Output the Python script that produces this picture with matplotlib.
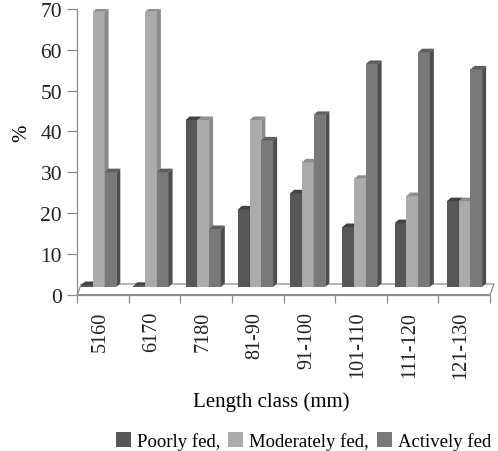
"""3D-look clustered column chart: feeding intensity per length class."""

import matplotlib
matplotlib.use("Agg")
import matplotlib.pyplot as plt
import matplotlib.transforms as mtransforms
from matplotlib.patches import Polygon

plt.rcParams["font.family"] = ["Liberation Serif", "DejaVu Serif"]

# data (percent per length class)
categories = ["5160", "6170", "7180", "81-90", "91-100", "101-110", "111-120", "121-130"]
poorly = [0.5, 0.3, 42.6, 19.8, 23.9, 15.3, 16.3, 21.9]
moderately = [70.2, 70.2, 42.6, 42.6, 31.8, 27.6, 23.2, 21.9]
actively = [29.3, 29.3, 14.8, 37.4, 43.9, 56.9, 59.9, 55.5]
series_names = ["Poorly fed,", "Moderately fed,", "Actively fed"]
ytick_values = [0, 10, 20, 30, 40, 50, 60, 70]

# looks
FRONT = ["#575757", "#ababab", "#797979"]
SIDE = ["#3c3c3c", "#8a8a8a", "#4e4e4e"]
TOP = ["#424242", "#8e8e8e", "#5e5e5e"]
AXIS = "#8c8c8c"
BAR_W = 0.227
DX, DY = 0.078, 0.9          # depth of a column (data units)
FLOOR_FRONT, FLOOR_BACK = -1.96, 0.77
FRONT_SCALE, FRONT_DROP = 1.041, 1.96   # axis sits on the front plane

fig = plt.figure(figsize=(4.98, 4.52), dpi=100)
ax = fig.add_axes([0.1552, 0.3458, 0.8287, 0.632])
ax.set_xlim(-0.5, 7.5)
ax.set_ylim(-1.96, 70.9)

# floor
ax.add_patch(Polygon([(-0.5, FLOOR_FRONT), (-0.5 + DX, FLOOR_BACK),
                      (7.5 + DX, FLOOR_BACK), (7.5, FLOOR_FRONT)],
                     closed=True, facecolor="white", edgecolor=AXIS,
                     linewidth=0.9, zorder=1, clip_on=False))

n = len(categories)
centers = [i + 0.013 * (i - 3.5) - 0.039 for i in range(n)]
handles = []
for k, values in enumerate([poorly, moderately, actively]):
    xs = [c + (k - 1) * BAR_W for c in centers]
    bars = ax.bar(xs, values, width=BAR_W, color=FRONT[k], linewidth=0,
                  zorder=3 + k, label=series_names[k])
    handles.append(bars)
    for p in bars.patches:
        x0, w, h = p.get_x(), p.get_width(), p.get_height()
        ax.add_patch(Polygon([(x0 + w, 0), (x0 + w + DX, DY), (x0 + w + DX, h + DY), (x0 + w, h)],
                             closed=True, facecolor=SIDE[k], linewidth=0, zorder=3 + k))
        ax.add_patch(Polygon([(x0, h), (x0 + DX, h + DY), (x0 + w + DX, h + DY), (x0 + w, h)],
                             closed=True, facecolor=TOP[k], linewidth=0, zorder=3 + k))

# axes styling
for side in ["top", "right"]:
    ax.spines[side].set_visible(False)
for side in ["left", "bottom"]:
    ax.spines[side].set_color(AXIS)
    ax.spines[side].set_linewidth(0.9)
    ax.spines[side].set_zorder(2)

ax.set_yticks([v * FRONT_SCALE - FRONT_DROP for v in ytick_values])
ax.set_yticklabels([str(v) for v in ytick_values], fontsize=15.5, color="#222222")
ax.tick_params(axis="y", length=7, width=0.9, color=AXIS, pad=4)

ax.set_xticks(range(n))
ax.set_xticklabels(categories, rotation=90, fontsize=14.5, color="#222222", va="top")
ax.tick_params(axis="x", which="major", length=0, pad=11.5)
ax.set_xticks([i - 0.5 for i in range(n + 1)], minor=True)
ax.tick_params(axis="x", which="minor", length=6, width=0.9, color=AXIS)
shift = mtransforms.ScaledTranslation(-3 / 100, 0, fig.dpi_scale_trans)
for lab in ax.get_xticklabels():
    lab.set_transform(lab.get_transform() + shift)

fig.text(22 / 498, 1 - 133 / 452, "%", rotation=90, ha="center", va="center", fontsize=15)
fig.text(271.5 / 498, 1 - 402 / 452, "Length class (mm)", ha="center", va="center", fontsize=15)

fig.legend(handles=handles, loc="center", bbox_to_anchor=(303.5 / 498, 10 / 452), ncol=3,
           frameon=False, fontsize=13.5, handlelength=0.8, handleheight=0.8,
           handletextpad=0.3, columnspacing=0.45, borderpad=0, borderaxespad=0)

fig.savefig("out.png", dpi=100, facecolor="white")
